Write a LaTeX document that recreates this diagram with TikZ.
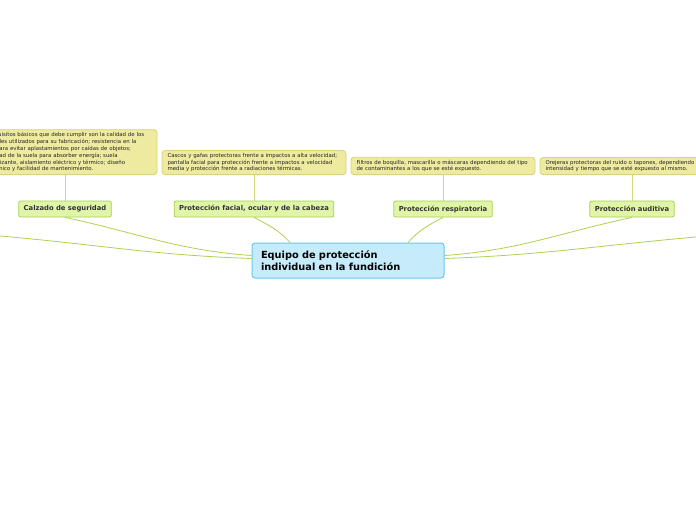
\documentclass[tikz,border=0pt]{standalone}
\usepackage{fontspec}
\setmainfont{DejaVu Sans}
\usetikzlibrary{positioning,calc}
\definecolor{mainFill}{HTML}{C6ECFC}
\definecolor{mainLine}{HTML}{6CC6EE}
\definecolor{subFill}{HTML}{E0F5A8}
\definecolor{subLine}{HTML}{A9D04E}
\definecolor{noteFill}{HTML}{EEEA9F}
\definecolor{noteLine}{HTML}{D8D47C}
\definecolor{linkColor}{HTML}{B0D052}
\tikzset{mainTopic/.style={rectangle,rounded corners=3pt,draw=mainLine,line width=1pt,fill=mainFill,
		                 text width=174pt,inner xsep=9pt,minimum height=35pt,align=left,
		                 font=\fontsize{9.8}{12}\selectfont\bfseries,text=black},
		subTopic/.style={rectangle,rounded corners=2pt,draw=subLine,line width=0.8pt,fill=subFill,
		                 inner xsep=5pt,minimum height=16pt,
		                 font=\fontsize{6.8}{8}\selectfont\bfseries,text=black!80},
		noteBox/.style={rectangle,rounded corners=3pt,draw=noteLine,line width=0.8pt,fill=noteFill,
		                 text width=173pt,inner xsep=5.5pt,inner ysep=2.5pt,align=left,
		                 font=\fontsize{5.4}{6.9}\selectfont,text=black!85},
		linkEdge/.style={draw=linkColor,line width=0.8pt},
		noteEdge/.style={draw=noteLine,line width=0.7pt},
		every node/.style={align=center}}
\begin{document}
\begin{tikzpicture}[x=1pt,y=-1pt]
\clip (0,0) rectangle (696,520);
\fill[white] (0,0) rectangle (696,520);
% central topic
\node[mainTopic] (equipo) at (348,260.5) {Equipo de protección\\individual en la fundición};
% branches
\node[subTopic] (calzado) at (65,209) {Calzado de seguridad};
\node[subTopic] (facial) at (254,209) {Protección facial, ocular y de la cabeza};
\node[subTopic] (respira) at (443,209) {Protección respiratoria};
\node[subTopic] (auditiva) at (632,209) {Protección auditiva};
% notes
\node[noteBox,anchor=south] (calzadoNote) at (65,175) {Los requisitos básicos que debe cumplir son la calidad de los\\materiales utilizados para su fabricación; resistencia en la\\punta para evitar aplastamientos por caídas de objetos;\\capacidad de la suela para absorber energía; suela\\antideslizante, aislamiento eléctrico y térmico; diseño\\ergonómico y facilidad de mantenimiento.};
\node[noteBox,anchor=south] (facialNote) at (254,175) {Cascos y gafas protectoras frente a impactos a alta velocidad;\\pantalla facial para protección frente a impactos a velocidad\\media y protección frente a radiaciones térmicas.};
\node[noteBox,anchor=south] (respiraNote) at (443,175) {Filtros de boquilla, mascarilla o máscaras dependiendo del tipo\\de contaminantes a los que se esté expuesto.};
\node[noteBox,anchor=south] (auditivaNote) at (632,175) {Orejeras protectoras del ruido o tapones, dependiendo de la\\intensidad y tiempo que se esté expuesto al mismo.};
% branches leaving the picture
\coordinate (leftEnd) at (0,236);
\coordinate (rightEnd) at (696,237);
% links
\draw[noteEdge] (calzadoNote.south) -- (calzado.north);
\draw[noteEdge] (facialNote.south) -- (facial.north);
\draw[noteEdge] (respiraNote.south) -- (respira.north);
\draw[noteEdge] (auditivaNote.south) -- (auditiva.north);
\draw[linkEdge] (calzado.south) to[out=-12,in=176] ([yshift=5pt]equipo.west);
\draw[linkEdge] (facial.south) to[out=-28,in=132] ([xshift=-58pt]equipo.north);
\draw[linkEdge] (respira.south) to[out=-152,in=48] ([xshift=60pt]equipo.north);
\draw[linkEdge] (auditiva.south) to[out=-168,in=4] ([yshift=5pt]equipo.east);
\draw[linkEdge] (leftEnd) to[out=-5,in=178] ([yshift=2pt]equipo.west);
\draw[linkEdge] (rightEnd) to[out=-175,in=2] ([yshift=2pt]equipo.east);
\end{tikzpicture}
\end{document}
